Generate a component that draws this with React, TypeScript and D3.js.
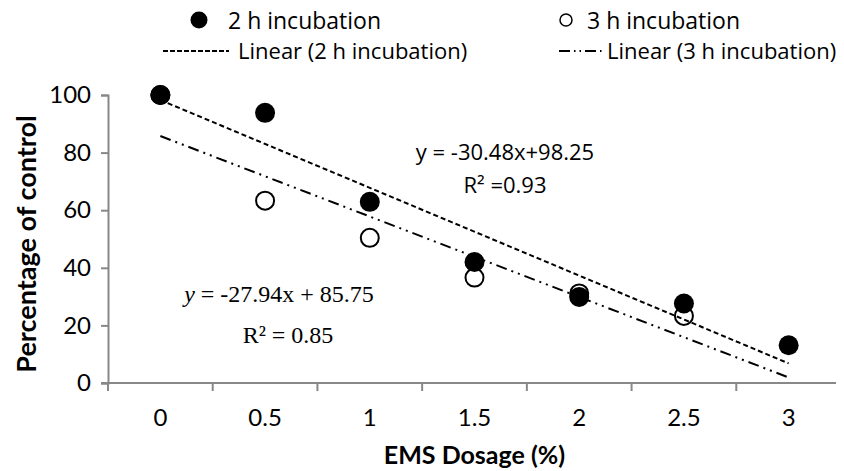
import { useEffect, useRef } from 'react';
import * as d3 from 'd3';

// EMS dosage categories (%)
const categories = ['0', '0.5', '1', '1.5', '2', '2.5', '3'];
const dosage = [0, 0.5, 1, 1.5, 2, 2.5, 3];

// percentage of control
const inc2h = [100, 93.8, 62.9, 42.0, 29.9, 27.6, 13.1];
const inc3h = [100, 63.3, 50.4, 36.6, 31.1, 23.3, null];

const yTicks = [0, 20, 40, 60, 80, 100];

// linear trendlines as printed on the chart
const trend2h = { slope: -30.48, intercept: 98.25 };
const trend3h = { slope: -27.94, intercept: 85.75 };

const WIDTH = 844;
const HEIGHT = 471;
const margin = { top: 95, right: 3, bottom: 88, left: 108 };

const sans = 'Lato, "Open Sans", sans-serif';
const legendFont = '"Open Sans", Lato, sans-serif';

const App = () => {
  const svgRef = useRef(null);

  useEffect(() => {
    const svg = d3.select(svgRef.current);
    svg.selectAll('*').remove();

    const innerWidth = WIDTH - margin.left - margin.right;
    const innerHeight = HEIGHT - margin.top - margin.bottom;

    const xBand = d3.scaleBand().domain(categories).range([0, innerWidth]).padding(0);
    const bw = xBand.bandwidth();
    // numeric dosage -> category centre
    const x = d3.scaleLinear()
      .domain([0, 3])
      .range([xBand('0') + bw / 2, xBand('3') + bw / 2]);
    const y = d3.scaleLinear().domain([0, 100]).range([innerHeight, 0]);

    const g = svg.append('g').attr('transform', `translate(${margin.left},${margin.top})`);

    // y axis
    const yAxis = g.append('g')
      .call(d3.axisLeft(y).tickValues(yTicks).tickSize(7).tickPadding(10));
    yAxis.select('.domain').attr('stroke', '#888').attr('stroke-width', 2);
    yAxis.selectAll('.tick line').attr('stroke', '#888').attr('stroke-width', 2);
    yAxis.selectAll('.tick text')
      .attr('font-family', sans).attr('font-size', 24).attr('fill', '#000');

    // x axis: labels centred in bands, ticks on band edges
    const xAxis = g.append('g')
      .attr('transform', `translate(0,${innerHeight})`)
      .call(d3.axisBottom(xBand).tickSize(0).tickPadding(26));
    xAxis.select('.domain').remove();
    xAxis.selectAll('.tick text')
      .attr('font-family', sans).attr('font-size', 24).attr('fill', '#000');
    g.append('line')
      .attr('x1', -7).attr('x2', innerWidth)
      .attr('y1', innerHeight).attr('y2', innerHeight)
      .attr('stroke', '#888').attr('stroke-width', 2);
    g.selectAll('.xtick')
      .data([...categories.map(c => xBand(c)), innerWidth])
      .enter()
      .append('line')
      .attr('class', 'xtick')
      .attr('x1', d => d).attr('x2', d => d)
      .attr('y1', innerHeight).attr('y2', innerHeight + 8)
      .attr('stroke', '#888').attr('stroke-width', 2);

    // open markers (3 h) underneath
    g.selectAll('.m3')
      .data(dosage.map((d, i) => ({ d, v: inc3h[i] })).filter(p => p.v !== null))
      .enter()
      .append('circle')
      .attr('class', 'm3')
      .attr('cx', p => x(p.d))
      .attr('cy', p => y(p.v))
      .attr('r', 9)
      .attr('fill', '#fff')
      .attr('stroke', '#000')
      .attr('stroke-width', 2);

    // trendlines
    const line = d3.line().x(d => x(d[0])).y(d => y(d[1]));
    const ends = [dosage[0], dosage[dosage.length - 1]];
    g.append('path')
      .attr('d', line(ends.map(d => [d, trend2h.intercept + trend2h.slope * d])))
      .attr('fill', 'none').attr('stroke', '#000').attr('stroke-width', 2)
      .attr('stroke-dasharray', '5,3');
    g.append('path')
      .attr('d', line(ends.map(d => [d, trend3h.intercept + trend3h.slope * d])))
      .attr('fill', 'none').attr('stroke', '#000').attr('stroke-width', 2)
      .attr('stroke-dasharray', '11,5,2,5,2,5');

    // filled markers (2 h) on top
    g.selectAll('.m2')
      .data(dosage.map((d, i) => ({ d, v: inc2h[i] })))
      .enter()
      .append('circle')
      .attr('class', 'm2')
      .attr('cx', p => x(p.d))
      .attr('cy', p => y(p.v))
      .attr('r', 10)
      .attr('fill', '#000');

    // equations
    svg.append('text')
      .attr('x', 505).attr('y', 160)
      .attr('text-anchor', 'middle')
      .attr('font-family', legendFont).attr('font-size', 22)
      .text('y = -30.48x+98.25');
    svg.append('text')
      .attr('x', 505).attr('y', 193)
      .attr('text-anchor', 'middle')
      .attr('font-family', legendFont).attr('font-size', 22)
      .text('R² =0.93');

    const eq2 = svg.append('text')
      .attr('x', 279).attr('y', 302)
      .attr('text-anchor', 'middle')
      .attr('font-family', '"Liberation Serif", serif').attr('font-size', 24);
    eq2.append('tspan').attr('font-style', 'italic').text('y');
    eq2.append('tspan').text(' = -27.94x + 85.75');
    svg.append('text')
      .attr('x', 288).attr('y', 343)
      .attr('text-anchor', 'middle')
      .attr('font-family', '"Liberation Serif", serif').attr('font-size', 24)
      .text('R² = 0.85');

    // axis titles
    svg.append('text')
      .attr('transform', `translate(36,${margin.top + innerHeight / 2 + 5}) rotate(-90)`)
      .attr('text-anchor', 'middle')
      .attr('font-family', sans).attr('font-weight', 'bold').attr('font-size', 27)
      .text('Percentage of control');
    svg.append('text')
      .attr('x', margin.left + innerWidth / 2).attr('y', 464)
      .attr('text-anchor', 'middle')
      .attr('font-family', sans).attr('font-weight', 'bold').attr('font-size', 25)
      .text('EMS Dosage (%)');

    // legend
    const leg = svg.append('g').attr('font-family', legendFont).attr('font-size', 22);
    leg.append('circle').attr('cx', 199).attr('cy', 20).attr('r', 8.5).attr('fill', '#000');
    leg.append('text').attr('x', 228).attr('y', 29).attr('font-size', 23).text('2 h incubation');
    leg.append('circle').attr('cx', 566).attr('cy', 20).attr('r', 6)
      .attr('fill', '#fff').attr('stroke', '#000').attr('stroke-width', 1.5);
    leg.append('text').attr('x', 587).attr('y', 29).attr('font-size', 23).text('3 h incubation');
    leg.append('line').attr('x1', 163).attr('x2', 229).attr('y1', 51).attr('y2', 51)
      .attr('stroke', '#000').attr('stroke-width', 2).attr('stroke-dasharray', '5,2');
    leg.append('text').attr('x', 238).attr('y', 59).text('Linear (2 h incubation)');
    leg.append('line').attr('x1', 559).attr('x2', 603).attr('y1', 51).attr('y2', 51)
      .attr('stroke', '#000').attr('stroke-width', 2).attr('stroke-dasharray', '11,4,1.5,4,1.5,4');
    leg.append('text').attr('x', 607).attr('y', 59).text('Linear (3 h incubation)');
  }, []);

  return (
    <div style={{ width: WIDTH, height: HEIGHT }}>
      <svg ref={svgRef} width={WIDTH} height={HEIGHT} style={{ display: 'block', marginLeft: -8, marginTop: -8 }}></svg>
    </div>
  );
};

export default App;
